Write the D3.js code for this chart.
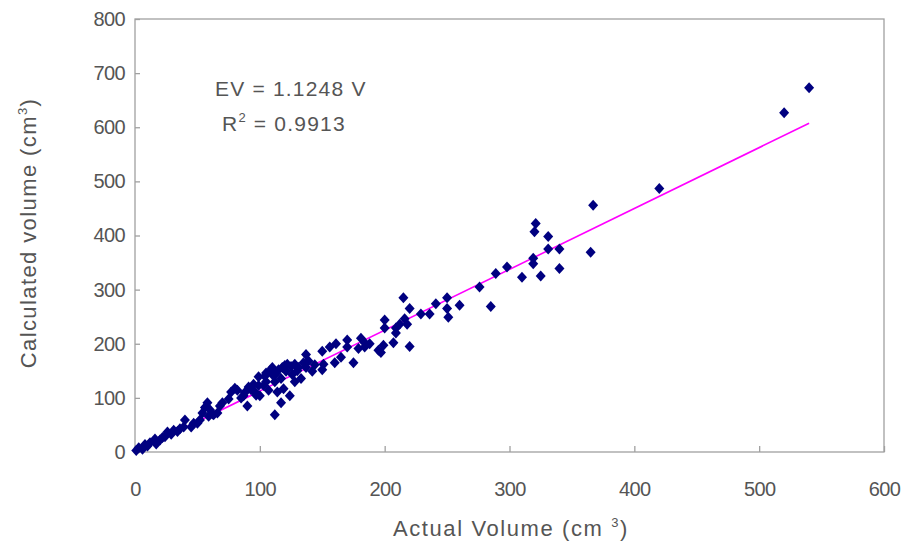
<!DOCTYPE html>
<html>
<head>
<meta charset="utf-8">
<script src="https://cdn.jsdelivr.net/npm/d3@7"></script>
<style>
  body { margin: 0; background: #fff; }
  text { font-family: Arial, "Liberation Sans", sans-serif; fill: #555; }
</style>
</head>
<body>
<div id="chart"></div>
<script>
// actual volume (cm3) vs calculated volume (cm3)
var actualVol = [540, 520, 420, 367, 365, 340, 340, 331, 331, 321, 320, 319, 319, 325, 310, 298, 289, 285, 276, 260,
  250, 250, 251, 241, 236, 229, 215, 220, 216, 218, 220, 212, 209, 209, 207, 200, 200, 199, 195, 197,
  188, 184, 181, 184, 170, 170, 175, 161, 160, 156, 150, 150, 144, 137, 139, 137, 131, 126, 122, 121,
  118, 117, 112, 110, 110, 105, 105, 103, 99, 99, 97, 91, 90, 112, 117, 119, 100, 80, 77, 70,
  68, 63, 58, 56, 54, 52, 47, 40, 39, 31, 26, 22, 16, 12, 8, 3, 1, 6, 17, 24,
  29, 36, 45, 50, 59, 66, 75, 82, 87, 96, 107, 114, 124, 128, 133, 142, 151, 165, 179,
  104, 108, 113, 115, 120, 125, 130, 135, 128, 88, 93, 95, 85, 60, 62, 20, 10, 34];
var calcVol = [673, 627, 487, 456, 369, 375, 339, 375, 398, 422, 407, 358, 348, 325, 323, 342, 330, 269, 305, 271,
  285, 265, 249, 274, 255, 255, 285, 265, 246, 236, 195, 236, 229, 220, 202, 244, 229, 197, 188, 184,
  200, 202, 210, 194, 207, 194, 165, 200, 165, 194, 186, 152, 161, 180, 168, 156, 156, 143, 162, 149,
  156, 136, 130, 156, 143, 146, 130, 123, 139, 123, 105, 120, 85, 69, 91, 117, 104, 118, 111, 91,
  85, 69, 91, 82, 72, 59, 53, 59, 46, 40, 37, 27, 24, 17, 14, 8, 3, 5, 15, 28,
  33, 43, 46, 53, 66, 72, 98, 114, 104, 111, 114, 111, 104, 130, 136, 149, 162, 175, 191,
  140, 150, 145, 152, 160, 158, 150, 165, 162, 110, 115, 125, 100, 78, 70, 22, 11, 38];
var xTicks = [0, 100, 200, 300, 400, 500, 600];
var yTicks = [0, 100, 200, 300, 400, 500, 600, 700, 800];
var slope = 1.1248;
var fitRange = [0, 540];

var W = 907, H = 545;
var margin = {top: 19, right: 23, bottom: 93, left: 135},
    width = W - margin.left - margin.right,
    height = H - margin.top - margin.bottom;

var svg = d3.select("#chart").append("svg")
    .attr("width", W)
    .attr("height", H);

var g = svg.append("g")
    .attr("transform", "translate(" + margin.left + "," + margin.top + ")");

var x = d3.scaleLinear().domain([0, 600]).range([0, width]);
var y = d3.scaleLinear().domain([0, 800]).range([height, 0]);

// plot frame
g.append("rect")
    .attr("width", width)
    .attr("height", height)
    .attr("fill", "none")
    .attr("stroke", "#a0a0a0")
    .attr("stroke-width", 1.3);

var xAxis = g.append("g")
    .attr("transform", "translate(0," + height + ")")
    .call(d3.axisBottom(x).tickValues(xTicks).tickSizeInner(-6).tickSizeOuter(0).tickPadding(30));

var yAxis = g.append("g")
    .call(d3.axisLeft(y).tickValues(yTicks).tickSizeInner(-5).tickSizeOuter(0).tickPadding(10));

[xAxis, yAxis].forEach(function(a) {
    a.select(".domain").remove();
    a.selectAll("line").attr("stroke", "#a0a0a0").attr("stroke-width", 1.3);
    a.selectAll("text")
	.style("font-size", "20px")
	.style("letter-spacing", "-0.6px")
	.attr("fill", "#5a5a5a");
});

// trend line
g.append("line")
    .attr("x1", x(fitRange[0]))
    .attr("y1", y(slope * fitRange[0]))
    .attr("x2", x(fitRange[1]))
    .attr("y2", y(slope * fitRange[1]))
    .attr("stroke", "#ff00ff")
    .attr("stroke-width", 1.6);

// points
var pts = actualVol.map(function(v, i) { return {a: v, c: calcVol[i]}; });
g.append("g").selectAll("path").data(pts).enter()
    .append("path")
    .attr("d", "M0,-5.5L5,0L0,5.5L-5,0Z")
    .attr("transform", function(d) { return "translate(" + x(d.a) + "," + y(d.c) + ")"; })
    .attr("fill", "#000080");

// equation
var eq = svg.append("g").style("font-size", "21px").style("letter-spacing", "1.2px");
eq.append("text")
    .attr("x", 215).attr("y", 96)
    .text("EV = 1.1248 V");
var r2 = eq.append("text").attr("x", 222).attr("y", 131);
r2.append("tspan").text("R");
r2.append("tspan").attr("dy", -9).style("font-size", "13px").text("2");
r2.append("tspan").attr("dy", 9).text(" = 0.9913");

// axis titles
var xt = svg.append("text")
    .attr("x", 511)
    .attr("y", 536)
    .attr("text-anchor", "middle")
    .style("font-size", "22px")
    .style("letter-spacing", "1.6px");
xt.append("tspan").text("Actual Volume (cm ");
xt.append("tspan").attr("dy", -9).style("font-size", "13px").text("3");
xt.append("tspan").attr("dy", 9).text(")");

var yt = svg.append("text")
    .attr("transform", "translate(36," + 233 + ") rotate(-90)")
    .attr("text-anchor", "middle")
    .style("font-size", "22px")
    .style("letter-spacing", "1.4px");
yt.append("tspan").text("Calculated volume (cm");
yt.append("tspan").attr("dy", -9).style("font-size", "13px").text("3");
yt.append("tspan").attr("dy", 9).text(")");
</script>
</body>
</html>
